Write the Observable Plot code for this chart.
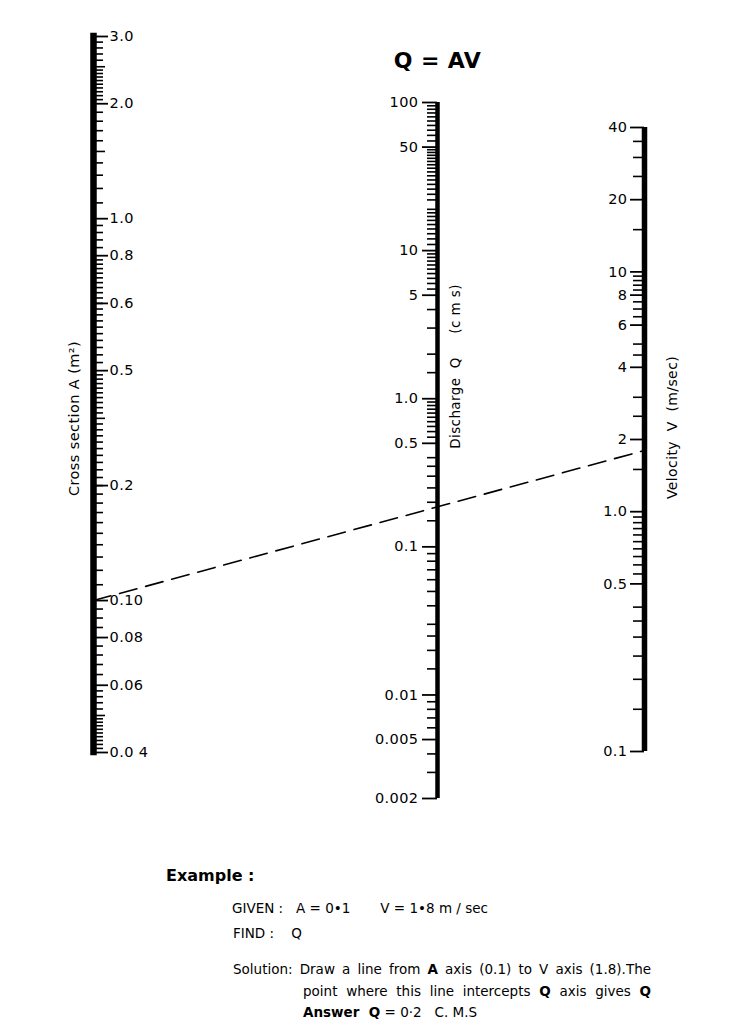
<!DOCTYPE html>
<html><head><meta charset="utf-8">
<script src="https://cdn.jsdelivr.net/npm/d3@7"></script>
<script src="https://cdn.jsdelivr.net/npm/@observablehq/plot@0.6"></script>
<style>
body{margin:0;background:#fff;}
#wrap{position:relative;width:750px;height:1035px;font-family:"DejaVu Sans",sans-serif;color:#000;}
#wrap svg{position:absolute;left:0;top:0;}
.t{position:absolute;white-space:pre;font-size:13.5px;line-height:16px;}
.j{white-space:normal;text-align:justify;text-align-last:justify;}
.ex{font-size:16px;font-weight:bold;line-height:19px;}
</style></head><body>
<div id="wrap"></div>
<script>
// ---- Axis A : cross section (m²) ----
const aTickValues = [3.0, 2.0, 1.0, 0.8, 0.6, 0.4, 0.2, 0.1, 0.08, 0.06, 0.04];
const aTickLabels = ["3.0", "2.0", "1.0", "0.8", "0.6", "0.5", "0.2", "0.10", "0.08", "0.06", "0.0 4"];
const aMidTicks = [2.5, 1.5, 0.3, 0.05];
const aMinorSegments = [[2.5, 3.0, 0.1], [2.0, 2.5, 0.05], [1.0, 2.0, 0.1], [0.8, 1.0, 0.04], [0.4, 0.8, 0.02], [0.1, 0.4, 0.01], [0.08, 0.1, 0.005], [0.06, 0.08, 0.004], [0.05, 0.06, 0.002], [0.04, 0.05, 0.001]];

// ---- Axis Q : discharge (c m s) ----
const qTickValues = [100, 50, 10, 5, 1, 0.5, 0.1, 0.01, 0.005, 0.002];
const qTickLabels = ["100", "50", "10", "5", "1.0", "0.5", "0.1", "0.01", "0.005", "0.002"];
const qMinorSegments = [[50, 100, 5], [20, 50, 2], [10, 20, 1], [5, 10, 0.5], [0.5, 1, 0.05], [0.005, 0.01, 0.001]];
const qMinorExtra = [4, 3, 2, 1.5, 0.4, 0.35, 0.3, 0.25, 0.2, 0.15, 0.09, 0.08, 0.07, 0.06, 0.05, 0.04, 0.03, 0.025, 0.02, 0.015, 0.004, 0.003];

// ---- Axis V : velocity (m/sec) ----
const vTickValues = [40, 20, 10, 8, 6, 4, 2, 1, 0.5, 0.1];
const vTickLabels = ["40", "20", "10", "8", "6", "4", "2", "1.0", "0.5", "0.1"];
const vMinorSegments = [[8, 10, 0.4], [6, 8, 0.5], [0.5, 1, 0.05]];
const vMinorExtra = [35, 30, 25, 15, 5, 4.5, 3, 2.5, 1.5, 0.4, 0.35, 0.3, 0.25, 0.2, 0.15];

// ---- Worked example ----
const exampleA = 0.1;   // m²
const exampleV = 1.8;   // m/sec
const exampleQ = 0.2;   // c m s (answer)

function expand(segments, extra = []) {
  const out = [...extra];
  for (const [a, b, s] of segments) {
    for (let v = a + s; v < b - s / 2; v += s) out.push(+v.toFixed(4));
  }
  return out;
}
function labeler(values, labels) {
  const m = new Map(values.map((v, i) => [v, labels[i]]));
  return d => m.get(d);
}
const aMinor = expand(aMinorSegments).filter(v => !aMidTicks.includes(v));
const qMinor = expand(qMinorSegments, qMinorExtra);
const vMinor = expand(vMinorSegments, vMinorExtra);

const H = 830;
const W = 750;
const style = {fontFamily: "DejaVu Sans, sans-serif", background: "none", overflow: "visible", letterSpacing: "0.4px"};

const plotA = Plot.plot({
  width: W, height: H, style,
  marginTop: 36, marginBottom: H - 752, marginLeft: 0, marginRight: W - 93,
  x: {domain: [0, 1], axis: null},
  y: {type: "log", domain: [d3.min(aTickValues), d3.max(aTickValues)], axis: null},
  marks: [
    Plot.ruleX([1], {y1: d3.max(aTickValues), y2: d3.min(aTickValues), strokeWidth: 6.5, strokeLinecap: "square"}),
    Plot.axisY(aMinor, {anchor: "right", tickSize: 9, strokeWidth: 1.6, fill: "none", label: null}),
    Plot.axisY(aMidTicks, {anchor: "right", tickSize: 11, strokeWidth: 1.6, fill: "none", label: null}),
    Plot.axisY(aTickValues, {anchor: "right", tickSize: 14, strokeWidth: 1.8, fill: "none", label: null}),
    Plot.text(aTickValues, {y: d => d, text: labeler(aTickValues, aTickLabels), frameAnchor: "right", textAnchor: "start", dx: 16, fontSize: 14.5}),
    Plot.text(["Cross section A (m²)"], {frameAnchor: "right", textAnchor: "middle", dx: -19, dy: 24, rotate: -90, fontSize: 14.5})
  ]
});

const plotQ = Plot.plot({
  width: W, height: H, style,
  marginTop: 102, marginBottom: H - 798, marginLeft: 437, marginRight: 0,
  x: {domain: [0, 1], axis: null},
  y: {type: "log", domain: [d3.min(qTickValues), d3.max(qTickValues)], axis: null},
  marks: [
    Plot.ruleX([0], {y1: d3.max(qTickValues), y2: d3.min(qTickValues), strokeWidth: 4.5}),
    Plot.axisY(qMinor, {anchor: "left", tickSize: 10, strokeWidth: 1.6, fill: "none", label: null}),
    Plot.axisY(qTickValues, {anchor: "left", tickSize: 15, strokeWidth: 1.8, fill: "none", label: null}),
    Plot.text(qTickValues, {y: d => d, text: labeler(qTickValues, qTickLabels), frameAnchor: "left", textAnchor: "end", dx: -19, fontSize: 14.5}),
    Plot.text(["Q = AV"], {frameAnchor: "top-left", lineAnchor: "middle", textAnchor: "middle", dy: -42, fontSize: 22, fontWeight: "bold"}),
    Plot.text(["Discharge  Q     (c m s)"], {frameAnchor: "left", textAnchor: "middle", dx: 18, dy: -84, rotate: -90, fontSize: 13.5})
  ]
});

const plotV = Plot.plot({
  width: W, height: H, style,
  marginTop: 127, marginBottom: H - 751, marginLeft: 644, marginRight: 0,
  x: {domain: [0, 1], axis: null},
  y: {type: "log", domain: [d3.min(vTickValues), d3.max(vTickValues)], axis: null},
  marks: [
    Plot.ruleX([0], {y1: d3.max(vTickValues), y2: d3.min(vTickValues), strokeWidth: 5.5}),
    Plot.axisY(vMinor, {anchor: "left", tickSize: 11, strokeWidth: 1.6, fill: "none", label: null}),
    Plot.axisY(vTickValues, {anchor: "left", tickSize: 14, strokeWidth: 1.8, fill: "none", label: null}),
    Plot.text(vTickValues, {y: d => d, text: labeler(vTickValues, vTickLabels), frameAnchor: "left", textAnchor: "end", dx: -17, fontSize: 14.5}),
    Plot.text(["Velocity  V  (m/sec)"], {frameAnchor: "left", textAnchor: "middle", dx: 28, dy: -12, rotate: -90, fontSize: 14})
  ]
});

// dashed example line from A axis (0.1) to V axis (1.8), through library scales
const xA = plotA.scale("x").apply(1), yA = plotA.scale("y").apply(exampleA);
const xV = plotV.scale("x").apply(0), yV = plotV.scale("y").apply(exampleV);
const plotLine = Plot.plot({
  width: W, height: H, margin: 0, style,
  x: {domain: [0, W], range: [0, W], axis: null},
  y: {domain: [0, H], range: [0, H], axis: null},
  marks: [
    Plot.line([[xA, yA], [xV, yV]], {strokeWidth: 1.6, strokeDasharray: "18,9"})
  ]
});

const wrap = document.getElementById("wrap");
for (const p of [plotA, plotQ, plotV, plotLine]) wrap.appendChild(p);

const lines = [
  {cls: "t ex", left: 166, top: 866, html: "Example :"},
  {cls: "t", left: 232, top: 900, html: "GIVEN :   A = 0•1       V = 1•8 m / sec"},
  {cls: "t", left: 233, top: 925, html: "FIND :    Q"},
  {cls: "t j", left: 233, top: 961, width: 418, html: "Solution:  Draw a line from <b>A</b> axis (0.1) to V axis (1.8).The"},
  {cls: "t j", left: 303, top: 983, width: 348, html: "point  where this line intercepts <b>Q</b> axis  gives <b>Q</b>"},
  {cls: "t", left: 303, top: 1004, html: "<b>Answer  Q</b> = 0·2   C. M.S"}
];
for (const l of lines) {
  const d = document.createElement("div");
  d.className = l.cls;
  d.style.left = l.left + "px";
  d.style.top = l.top + "px";
  if (l.width) d.style.width = l.width + "px";
  d.innerHTML = l.html;
  wrap.appendChild(d);
}
</script>
</body></html>
